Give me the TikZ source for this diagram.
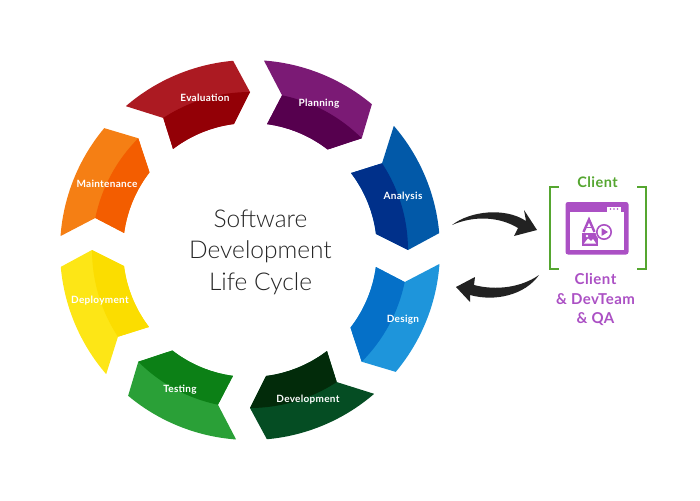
\documentclass[tikz,border=0pt]{standalone}
\usepackage{fontspec}
\setmainfont{Lato}
\newfontfamily\lightf{Lato Light}
\newfontfamily\widef[LetterSpace=3]{Lato}
\definecolor{c0o}{HTML}{7B1A75}\definecolor{c0i}{HTML}{56004E}
\definecolor{c1o}{HTML}{0259A8}\definecolor{c1i}{HTML}{00308A}
\definecolor{c2o}{HTML}{1E95DB}\definecolor{c2i}{HTML}{0570C8}
\definecolor{c3o}{HTML}{054D23}\definecolor{c3i}{HTML}{022B0A}
\definecolor{c4o}{HTML}{2AA037}\definecolor{c4i}{HTML}{0C8016}
\definecolor{c5o}{HTML}{FDE616}\definecolor{c5i}{HTML}{FBDD00}
\definecolor{c6o}{HTML}{F57F14}\definecolor{c6i}{HTML}{F35D00}
\definecolor{c7o}{HTML}{AC1A22}\definecolor{c7i}{HTML}{930006}
\definecolor{grn}{HTML}{55A630}
\definecolor{prp}{HTML}{AB50C4}
\definecolor{arrowc}{HTML}{222222}
\tikzset{
  seglabel/.style={text=white,font=\widef\fontsize{10}{11}\selectfont\bfseries,inner sep=0pt},
  titletext/.style={text=black!85,font=\lightf\fontsize{24.5}{31.5}\selectfont,align=center,inner sep=0pt},
  greentext/.style={text=grn,font=\widef\fontsize{14.5}{15}\selectfont\bfseries,inner sep=0pt},
  purpletext/.style={text=prp,font=\widef\fontsize{15}{19.5}\selectfont\bfseries,align=center,inner sep=0pt},
  bracket/.style={draw=grn,line width=2.6pt,line cap=butt,line join=miter},
  cyclearrow/.style={fill=arrowc,draw=none},
  iconline/.style={draw=prp,line width=2.4pt}
}
\begin{document}
\begin{tikzpicture}[x=1pt,y=-1pt]
\useasboundingbox (0,0) rectangle (700,500);
\foreach \k in {0,...,7}{
  \begin{scope}[shift={(250,250)},rotate=-45*\k]
    \fill[c\k o] (85.8:190pt) arc[start angle=85.8,end angle=50.1,radius=190pt]
      -- (45:158pt) -- (52.3:127pt) arc[start angle=52.3,end angle=82.3,radius=127pt]
      -- (78.3:158pt) -- cycle;
    \fill[c\k i] (78.3:158pt) arc[start angle=78.3,end angle=45,radius=158pt]
      -- (52.3:127pt) arc[start angle=52.3,end angle=82.3,radius=127pt] -- cycle;
  \end{scope}
}
\node[seglabel] (planning) at (319,104) {Planning};
\node[seglabel] (analysis) at (403,196.5) {Analysis};
\node[seglabel] (design) at (403,319.5) {Design};
\node[seglabel] (development) at (308,400) {Development};
\node[seglabel] (testing) at (180,389.5) {Testing};
\node[seglabel] (deployment) at (100,300.5) {Deployment};
\node[seglabel] (maintenance) at (107,183.5) {Maintenance};
\node[seglabel] (evaluation) at (205,97.5) {Evaluation};
\node[titletext] (title) at (260.5,252) {Software\\Development\\Life Cycle};
% arrows
\fill[cyclearrow] (452,225) .. controls (470,211) and (505,207) .. (526,221)
  -- (524,210) -- (537,230) -- (514,236) -- (518,228)
  .. controls (500,217) and (475,215) .. (452,225) -- cycle;
\fill[cyclearrow] (539,275) .. controls (522,287) and (497,291) .. (474,285)
  -- (475,277) -- (456,287) -- (470,302) -- (470,295)
  .. controls (495,302) and (525,295) .. (539,275) -- cycle;
% brackets
\draw[bracket] (559,187) -- (550,187) -- (550,269) -- (559,269);
\draw[bracket] (637,187) -- (646,187) -- (646,269) -- (637,269);
\node[greentext] (client) at (597.5,182.5) {Client};
\node[purpletext] (roles) at (595.5,299.5) {Client\\\& DevTeam\\\& QA};
% icon
\fill[prp,rounded corners=2.5pt] (565.5,202) rectangle (628.5,254.5);
\fill[white] (570,212) rectangle (624,250);
\fill[white] (607,207) rectangle (621,212);
\fill[prp] (610.5,209) circle (0.9pt) (614,209) circle (0.9pt) (617.5,209) circle (0.9pt);
\draw[iconline,line join=miter] (583.5,232) -- (589,219.5) -- (594.5,232);
\draw[prp,line width=1.5pt] (585.5,227.5) -- (592.5,227.5);
\fill[prp] (582,233) rectangle (598,246);
\fill[white] (584,243.5) -- (588,238.5) -- (591,241) -- (593,239) -- (596,243.5) -- cycle;
\fill[white] (587,236) circle (1.3pt);
\fill[white] (604,232) circle (8.5pt);
\draw[prp,line width=1.6pt] (604,232) circle (7.2pt);
\fill[prp] (601.5,228) -- (608,232) -- (601.5,236) -- cycle;
\end{tikzpicture}
\end{document}
